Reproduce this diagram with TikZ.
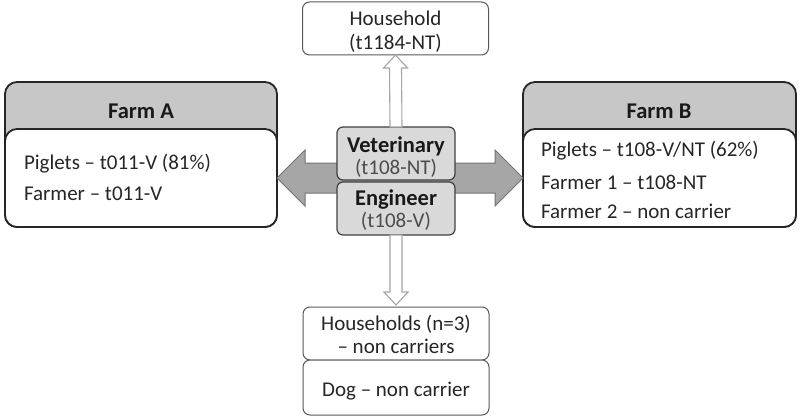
\documentclass[tikz,border=0pt]{standalone}
\usepackage{fontspec}
\setmainfont{Carlito}
\usetikzlibrary{calc}
\begin{document}
\begin{tikzpicture}[x=1pt,y=-1pt,
  every node/.style={outer sep=0pt},
  farmframe/.style={draw=black!85, line width=1.8pt, rounded corners=12pt, fill=black!22, inner sep=0pt},
  farmbody/.style={draw=black!85, line width=1.8pt, rounded corners=12pt, fill=white, inner sep=0pt},
  midbox/.style={draw=black!75, line width=1.2pt, rounded corners=6pt, fill=black!15, minimum width=118pt, minimum height=53pt, inner sep=0pt},
  hhbox/.style={draw=black!65, line width=1pt, rounded corners=7pt, fill=white, minimum width=186pt, inner sep=0pt},
  txt/.style={font=\fontsize{21}{24}\selectfont, text=black!85, inner sep=0pt},
  boldtxt/.style={font=\fontsize{22.5}{26}\selectfont\bfseries, text=black!90, inner sep=0pt},
  bigarrow/.style={draw=black!55, line width=1pt, fill=black!35, line join=miter},
  thinarrow/.style={draw=black!35, line width=1.1pt, fill=white, line join=miter}
]
\useasboundingbox (0,0) rectangle (800,417);

% Farm A
\node[farmframe, minimum width=272pt, minimum height=145pt] (fa) at (141,154.5) {};
\node[farmbody, minimum width=272pt, minimum height=98pt] (fab) at (141,178) {};
\node[boldtxt, anchor=base] (fat) at (141,119) {Farm A};
\node[txt, anchor=base west] (fa1) at (24,169) {Piglets – t011-V (81\%)};
\node[txt, anchor=base west] (fa2) at (24,200.5) {Farmer – t011-V};

% Farm B
\node[farmframe, minimum width=273pt, minimum height=145pt] (fb) at (659.5,154.5) {};
\node[farmbody, minimum width=273pt, minimum height=98pt] (fbb) at (659.5,178) {};
\node[boldtxt, anchor=base] (fbt) at (659,119) {Farm B};
\node[txt, anchor=base west] (fb1) at (541,157) {Piglets – t108-V/NT (62\%)};
\node[txt, anchor=base west] (fb2) at (541,189) {Farmer 1 – t108-NT};
\node[txt, anchor=base west] (fb3) at (541,218) {Farmer 2 – non carrier};

% top and bottom boxes
\node[hhbox, minimum height=53pt] (house) at (395.5,28.5) {};
\node[txt, anchor=base] (house1) at (395.5,26) {Household};
\node[txt, anchor=base] (house2) at (395.5,49.5) {(t1184-NT)};

\node[hhbox, minimum height=53pt] (hh) at (396,333.5) {};
\node[txt, anchor=base] (hh1) at (396,330) {Households (n=3)};
\node[txt, anchor=base] (hh2) at (396,353) {– non carriers};
\node[hhbox, minimum height=55pt] (dog) at (396,387.5) {};
\node[txt, anchor=base] (dog1) at (396,396) {Dog – non carrier};

% big horizontal double arrow (behind central boxes)
\draw[bigarrow] (fab.east) -- ++(28,-28) -- ++(0,13)
  -- ($(fbb.west)+(-28,-15)$) -- ++(0,-13) -- (fbb.west) -- ++(-28,28) -- ++(0,-13)
  -- ($(fab.east)+(28,15)$) -- ++(0,13) -- cycle;

% central boxes
\node[midbox] (vet) at (396,153.5) {};
\node[midbox] (eng) at (396,208.5) {};

% thin vertical arrows
\draw[thinarrow] (house.south) -- ++(12,13) -- ++(-6,0) -- ($(vet.north)+(6,0)$)
  -- ++(-12,0) -- ($(house.south)+(-6,13)$) -- ++(-6,0) -- cycle;
\draw[thinarrow] ($(hh.north)+(0,-2)$) -- ++(12,-13) -- ++(-6,0) -- ($(eng.south)+(6,0)$)
  -- ++(-12,0) -- ($(hh.north)+(-6,-15)$) -- ++(-6,0) -- cycle;

\node[boldtxt, anchor=base] (vet1) at (396,152) {Veterinary};
\node[txt, anchor=base, text=black!70] (vet2) at (396,174) {(t108-NT)};
\node[boldtxt, anchor=base] (eng1) at (396,205) {Engineer};
\node[txt, anchor=base, text=black!70] (eng2) at (396,227) {(t108-V)};
\end{tikzpicture}
\end{document}
